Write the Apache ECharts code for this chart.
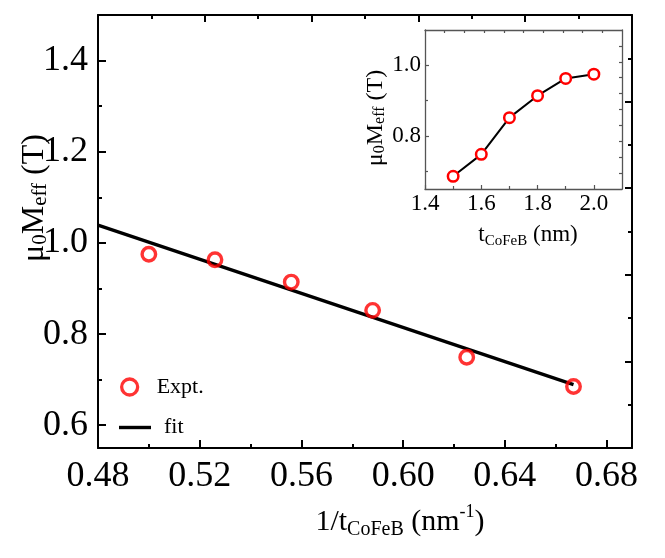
<!DOCTYPE html>
<html><head><meta charset="utf-8">
<script src="https://cdn.jsdelivr.net/npm/echarts@6/dist/echarts.min.js"></script>
<style>html,body{margin:0;padding:0;background:#fff}#c{width:665px;height:558px}</style>
</head><body><div id="c"></div>
<script>
// ---- data ----
const thickness = [1.5, 1.6, 1.7, 1.8, 1.9, 2.0];
const meffInset = [0.686, 0.748, 0.852, 0.914, 0.963, 0.975];
const invThickness = [0.500, 0.526, 0.556, 0.588, 0.625, 0.667];
const meffMain = [0.975, 0.963, 0.914, 0.852, 0.749, 0.685];
const fitX = [0.48, 0.667];
const fitY = [1.039, 0.689];
// ---- ticks ----
const mainXTicks = [0.48, 0.52, 0.56, 0.60, 0.64, 0.68];
const mainXMinor = [0.50, 0.54, 0.58, 0.62, 0.66];
const mainYTicks = [0.6, 0.8, 1.0, 1.2, 1.4];
const mainYMinor = [0.7, 0.9, 1.1, 1.3];
const mainTopMajor = [0.522, 0.564, 0.606, 0.648];
const mainTopMinor = [0.501, 0.543, 0.585, 0.627, 0.669];
const mainRightMajor = [0.74, 0.93, 1.12, 1.31];
const mainRightMinor = [0.645, 0.835, 1.025, 1.215, 1.405];
const insetXTicks = [1.4, 1.6, 1.8, 2.0];
const insetXMinor = [1.5, 1.7, 1.9];
const insetYTicks = [0.8, 1.0];
const insetYMinor = [0.7, 0.9];
const insetTop = [1.47, 1.54, 1.61, 1.68, 1.75, 1.82, 1.89, 1.96, 2.03];
const insetRight = [0.695, 0.74, 0.785, 0.83, 0.875, 0.92, 0.965, 1.01, 1.055];

const FONT = 'Liberation Serif';
const zip = (a, b) => a.map((v, i) => [v, b[i]]);

function ax(o) {
  const base = {
    type: 'value', splitLine: {show: false},
    axisLabel: {show: false}, axisTick: {show: false}, axisLine: {show: false}
  };
  return Object.assign(base, o);
}
function line(color, width) { return {show: true, onZero: false, lineStyle: {color: color, width: width}}; }
function ticks(vals, len, width, color) {
  return {show: true, inside: true, length: len, customValues: vals, lineStyle: {color: color || '#000', width: width}};
}
function labels(vals, size, margin, digits) {
  return {show: true, customValues: vals, fontSize: size, fontFamily: FONT, color: '#000', margin: margin,
    formatter: v => Number(v).toFixed(digits)};
}

const MX = {min: 0.48, max: 0.69}, MY = {min: 0.55, max: 1.5};
const IX = {min: 1.4, max: 2.1}, IY = {min: 0.65, max: 1.1};
const IC = '#555';

const option = {
  animation: false,
  backgroundColor: '#fff',
  grid: [
    {left: 98, top: 15, width: 534, height: 433},
    {left: 425, top: 30, width: 197, height: 159}
  ],
  xAxis: [
    ax(Object.assign({gridIndex: 0, position: 'bottom', axisLine: line('#000', 2),
      axisTick: ticks(mainXTicks, 8, 2), axisLabel: labels(mainXTicks, 36, 11, 2)}, MX)),
    ax(Object.assign({gridIndex: 0, position: 'bottom', axisTick: ticks(mainXMinor, 4, 2)}, MX)),
    ax(Object.assign({gridIndex: 0, position: 'top', axisLine: line('#000', 2),
      axisTick: ticks(mainTopMajor, 7, 2)}, MX)),
    ax(Object.assign({gridIndex: 0, position: 'top', axisTick: ticks(mainTopMinor, 4, 2)}, MX)),
    ax(Object.assign({gridIndex: 1, position: 'bottom', axisLine: line(IC, 1.3),
      axisTick: ticks(insetXTicks, 4, 1.2, IC), axisLabel: labels(insetXTicks, 23, 3, 1)}, IX)),
    ax(Object.assign({gridIndex: 1, position: 'bottom', axisTick: ticks(insetXMinor, 3, 1.2, IC)}, IX)),
    ax(Object.assign({gridIndex: 1, position: 'top', axisLine: line(IC, 1.3),
      axisTick: ticks(insetTop, 3, 1.2, IC)}, IX))
  ],
  yAxis: [
    ax(Object.assign({gridIndex: 0, position: 'left', axisLine: line('#000', 2),
      axisTick: ticks(mainYTicks, 8, 2), axisLabel: labels(mainYTicks, 36, 10, 1)}, MY)),
    ax(Object.assign({gridIndex: 0, position: 'left', axisTick: ticks(mainYMinor, 4, 2)}, MY)),
    ax(Object.assign({gridIndex: 0, position: 'right', axisLine: line('#000', 2),
      axisTick: ticks(mainRightMajor, 7, 2)}, MY)),
    ax(Object.assign({gridIndex: 0, position: 'right', axisTick: ticks(mainRightMinor, 4, 2)}, MY)),
    ax(Object.assign({gridIndex: 1, position: 'left', axisLine: line(IC, 1.3),
      axisTick: ticks(insetYTicks, 4, 1.2, IC), axisLabel: labels(insetYTicks, 23, 4, 1)}, IY)),
    ax(Object.assign({gridIndex: 1, position: 'left', axisTick: ticks(insetYMinor, 3, 1.2, IC)}, IY)),
    ax(Object.assign({gridIndex: 1, position: 'right', axisLine: line(IC, 1.3),
      axisTick: ticks(insetRight, 3, 1.2, IC)}, IY))
  ],
  legend: [
    {data: ['Expt.'], left: 115, top: 371, itemWidth: 16, itemHeight: 16, selectedMode: false,
      itemStyle: {borderWidth: 3.3, borderColor: '#ff0000', color: 'rgba(255,255,255,0)'},
      textStyle: {fontFamily: FONT, fontSize: 22, color: '#000', padding: [0, 0, 0, 14]}},
    {data: [{name: 'fit', icon: 'rect'}], left: 114, top: 411.5, itemWidth: 32, itemHeight: 3.4, selectedMode: false,
      itemStyle: {color: '#000', borderWidth: 0},
      textStyle: {fontFamily: FONT, fontSize: 22, color: '#000', padding: [0, 0, 0, 8]}}
  ],
  series: [
    {name: 'fit', type: 'line', xAxisIndex: 0, yAxisIndex: 0, data: zip(fitX, fitY),
      symbol: 'none', itemStyle: {color: '#000'}, lineStyle: {color: '#000', width: 3.3}, z: 2},
    {name: 'Expt.', type: 'scatter', xAxisIndex: 0, yAxisIndex: 0, data: zip(invThickness, meffMain),
      symbol: 'circle', symbolSize: 13.5,
      itemStyle: {color: 'rgba(255,255,255,0)', borderColor: '#ff0000', borderWidth: 3.4}, z: 3},
    {name: 'inset', type: 'line', xAxisIndex: 4, yAxisIndex: 4, data: zip(thickness, meffInset),
      symbol: 'circle', symbolSize: 10.5, showSymbol: true,
      lineStyle: {color: '#000', width: 2},
      itemStyle: {color: '#fff', borderColor: '#ff0000', borderWidth: 2.5}, z: 4}
  ],
  graphic: [
    {type: 'text', x: 35, y: 198, rotation: Math.PI / 2, z: 10,
      style: {text: '{m|μ}{s|0}{m|M}{s|eff}{m| (T)}', textAlign: 'center', textVerticalAlign: 'middle', fill: '#000',
        rich: {m: {fontSize: 32, fontFamily: FONT, fill: '#000'},
               s: {fontSize: 21, fontFamily: FONT, fill: '#000', padding: [11, 0, 0, 0]}}}},
    {type: 'text', x: 400, y: 522, z: 10,
      style: {text: '{m|1/t}{s|CoFeB}{m| (nm}{p|-1}{m|)}', textAlign: 'center', textVerticalAlign: 'middle', fill: '#000',
        rich: {m: {fontSize: 30, fontFamily: FONT, fill: '#000'},
               s: {fontSize: 20, fontFamily: FONT, fill: '#000', padding: [16, 0, 0, 0]},
               p: {fontSize: 18, fontFamily: FONT, fill: '#000', padding: [0, 0, 20, 0]}}}},
    {type: 'text', x: 376, y: 118, rotation: Math.PI / 2, z: 10,
      style: {text: '{m|μ}{s|0}{m|M}{s|eff}{m| (T)}', textAlign: 'center', textVerticalAlign: 'middle', fill: '#000',
        rich: {m: {fontSize: 24, fontFamily: FONT, fill: '#000'},
               s: {fontSize: 16, fontFamily: FONT, fill: '#000', padding: [8, 0, 0, 0]}}}},
    {type: 'text', x: 528, y: 235, z: 10,
      style: {text: '{m|t}{s|CoFeB}{m| (nm)}', textAlign: 'center', textVerticalAlign: 'middle', fill: '#000',
        rich: {m: {fontSize: 23, fontFamily: FONT, fill: '#000'},
               s: {fontSize: 15, fontFamily: FONT, fill: '#000', padding: [12, 0, 0, 0]}}}}
  ]
};
const chart = echarts.init(document.getElementById('c'), null, {renderer: 'canvas'});
chart.setOption(option);
</script></body></html>
